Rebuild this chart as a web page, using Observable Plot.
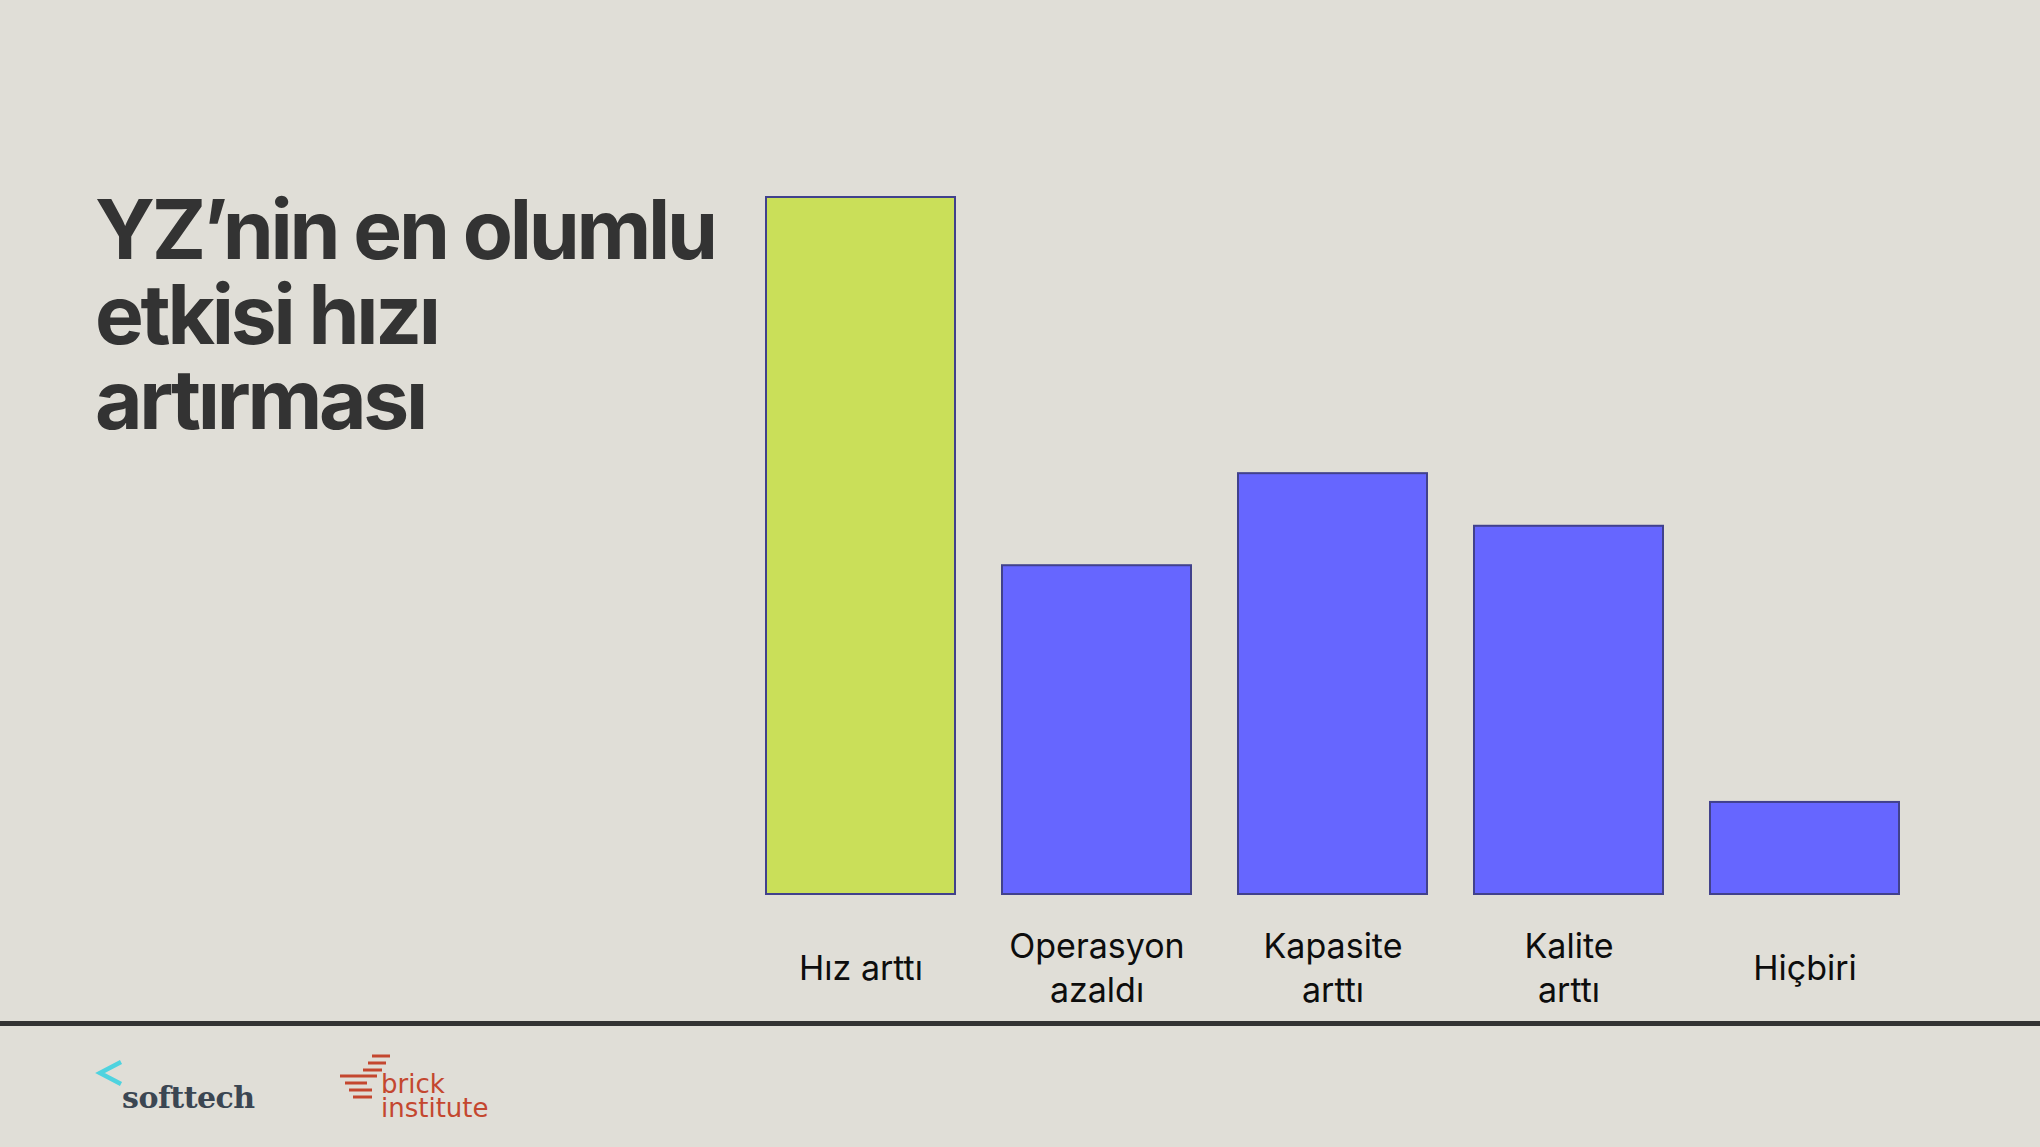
<!DOCTYPE html>
<html>
<head>
<meta charset="utf-8">
<script src="https://cdn.jsdelivr.net/npm/d3@7"></script>
<script src="https://cdn.jsdelivr.net/npm/@observablehq/plot@0.6"></script>
<style>
  html, body { margin: 0; padding: 0; background: #e0ded7; }
  #page { position: relative; width: 2040px; height: 1147px; overflow: hidden; background: #e0ded7; }
  #chart { position: absolute; left: 0; top: 0; }
  .tline {
    position: absolute; left: 95px; width: 700px; height: 85px;
    font-family: Inter, "Noto Sans", sans-serif; font-weight: 700;
    font-size: 82px; line-height: 85px; letter-spacing: -0.04em; color: #333333;
    white-space: nowrap;
  }
  #rule { position: absolute; left: 0; top: 1021px; width: 2040px; height: 5px; background: #333333; }
  #logos { position: absolute; left: 0; top: 1026px; }
</style>
</head>
<body>
<div id="page">
  <div id="chart"></div>
  <div class="tline" style="top:187px">YZ’nin en olumlu</div>
  <div class="tline" style="top:272px">etkisi hızı</div>
  <div class="tline" style="top:357px">artırması</div>
  <div id="rule"></div>
  <svg id="logos" width="600" height="121" viewBox="0 1026 600 121">
    <polyline points="121,1062 100,1073 121,1084" fill="none" stroke="#4fd3df" stroke-width="4.5"/>
    <text x="122" y="1108" font-family="'DejaVu Serif', serif" font-weight="700" font-size="30" fill="#3b4652" letter-spacing="-0.5">softtech</text>
    <g stroke="#c4472f" stroke-width="3">
      <line x1="372" y1="1056" x2="390" y2="1056"/>
      <line x1="368" y1="1063" x2="386" y2="1063"/>
      <line x1="363" y1="1070" x2="382" y2="1070"/>
      <line x1="340" y1="1076" x2="377" y2="1076"/>
      <line x1="345" y1="1083" x2="367" y2="1083"/>
      <line x1="349" y1="1090" x2="372" y2="1090"/>
      <line x1="353" y1="1097" x2="372" y2="1097"/>
    </g>
    <text x="381" y="1093" font-family="'DejaVu Sans', sans-serif" font-size="26" fill="#c4472f">brick</text>
    <text x="381" y="1117" font-family="'DejaVu Sans', sans-serif" font-size="26" fill="#c4472f">institute</text>
  </svg>
</div>
<script>
const categories = ["Hız arttı", "Operasyon azaldı", "Kapasite arttı", "Kalite arttı", "Hiçbiri"];
const tickLabels = ["Hız arttı", "Operasyon\nazaldı", "Kapasite\narttı", "Kalite\narttı", "Hiçbiri"];
const values = [53, 25, 32, 28, 7];
const highlight = ["Hız arttı"];

const data = categories.map((c, i) => ({cat: c, label: tickLabels[i], value: values[i]}));

const chart = Plot.plot({
  width: 2040,
  height: 1147,
  marginLeft: 765,
  marginRight: 140,
  marginTop: 197,
  marginBottom: 253,
  style: {background: "transparent", fontFamily: "Inter, 'Noto Sans', sans-serif"},
  x: {domain: categories, paddingInner: 0.2, paddingOuter: 0, axis: null},
  y: {domain: [0, 53], nice: false, axis: null},
  marks: [
    Plot.barY(data, {
      x: "cat", y: "value",
      fill: d => highlight.includes(d.cat) ? "#cadf59" : "#6666ff",
      stroke: "#41418c", strokeWidth: 2
    }),
    Plot.text(data, {
      x: "cat", text: "label",
      frameAnchor: "bottom", dy: 71, lineAnchor: "middle",
      lineHeight: 1.3, fontSize: 34, fill: "#0d0d0d", fontWeight: 400
    })
  ]
});
document.getElementById("chart").appendChild(chart);
</script>
</body>
</html>
